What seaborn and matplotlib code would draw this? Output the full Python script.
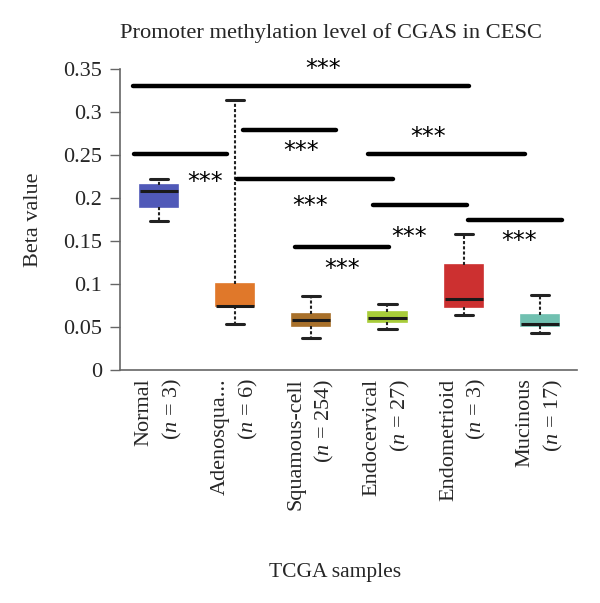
import matplotlib
matplotlib.use("Agg")
import matplotlib.pyplot as plt
import seaborn as sns
import pandas as pd

sns.set_style("white")
plt.rcParams['font.family'] = ['Liberation Serif', 'DejaVu Serif']
plt.rcParams['mathtext.fontset'] = 'custom'
plt.rcParams['mathtext.it'] = 'Liberation Serif:italic'
plt.rcParams['mathtext.rm'] = 'Liberation Serif'

# Categories and five-number summaries (whisker low, Q1, median, Q3, whisker high)
groups = ["Normal", "Adenosqua...", "Squamous-cell", "Endocervical", "Endometrioid", "Mucinous"]
counts = [3, 6, 254, 27, 3, 17]
normal = [0.173, 0.190, 0.208, 0.2155, 0.222]
adeno = [0.054, 0.0742, 0.0745, 0.0997, 0.314]
squamous = [0.038, 0.0518, 0.058, 0.0649, 0.0865]
endocervical = [0.0483, 0.056, 0.0606, 0.0672, 0.0773]
endometrioid = [0.0645, 0.0734, 0.083, 0.1217, 0.158]
mucinous = [0.0437, 0.0514, 0.0533, 0.0645, 0.0873]
colors = ["#5059b8", "#e0782a", "#a8702a", "#a8cc3a", "#cc3030", "#70c0b0"]

# Significance brackets: (x start, x end, y, star x, star y)
sig_x0 = [-0.34, -0.32, 1.10, 1.02, 1.79, 2.75, 2.81, 4.06]
sig_x1 = [4.07, 0.90, 2.33, 3.07, 3.02, 4.80, 4.04, 5.29]
sig_y = [0.3295, 0.251, 0.279, 0.2217, 0.1429, 0.251, 0.192, 0.1746]
star_x = [2.16, 0.605, 1.87, 1.99, 2.40, 3.53, 3.29, 4.73]
star_y = [0.355, 0.223, 0.2596, 0.196, 0.1228, 0.2754, 0.1596, 0.1545]

series = [normal, adeno, squamous, endocervical, endometrioid, mucinous]
rows = []
for g, vals in zip(groups, series):
    for v in vals:
        rows.append({"group": g, "value": v})
df = pd.DataFrame(rows)

fig = plt.figure(figsize=(6.0, 6.03), dpi=100)
ax = fig.add_axes([0.200, 0.386, 0.762, 0.500])

sns.boxplot(data=df, x="group", y="value", hue="group", palette=colors,
            order=groups, hue_order=groups, legend=False,
            whis=(0, 100), width=0.5, linewidth=1.2, saturation=1,
            showfliers=False, ax=ax, capwidths=0.24,
            medianprops=dict(color="#1a1a1a", linewidth=2.2),
            whiskerprops=dict(color="#222222", linestyle=(0, (1.5, 1)), linewidth=1.5),
            capprops=dict(color="#222222", linewidth=2.2))

# box edges same as fill colour
for patch, c in zip([p for p in ax.patches], colors):
    patch.set_edgecolor(c)

for x0, x1, y in zip(sig_x0, sig_x1, sig_y):
    ax.plot([x0, x1], [y, y], color="black", linewidth=3.2, solid_capstyle="round", clip_on=False)
for sx, sy in zip(star_x, star_y):
    ax.text(sx, sy - 0.005, "***", ha="center", va="center", fontsize=17, fontfamily="DejaVu Sans",
            color="black", clip_on=False)

ax.set_xlim(-0.51, 5.49)
ax.set_ylim(0, 0.35)
ax.set_yticks([0, 0.05, 0.1, 0.15, 0.2, 0.25, 0.3, 0.35])
ax.set_yticklabels(["0", "0.05", "0.1", "0.15", "0.2", "0.25", "0.3", "0.35"], fontsize=16)
ax.set_xticks(range(len(groups)))
ax.set_xticklabels([f"{g}\n($n$ = {n})" for g, n in zip(groups, counts)],
                   rotation=90, fontsize=16, ha="center", va="top", multialignment="right",
                   linespacing=1.45)
ax.tick_params(axis="y", direction="out", length=7, width=1, color="#666666", left=True, pad=6)
ax.tick_params(axis="x", length=0, pad=6)
for s in ["top", "right"]:
    ax.spines[s].set_visible(False)
for s in ["left", "bottom"]:
    ax.spines[s].set_color("#666666")
    ax.spines[s].set_linewidth(1.2)

ax.set_ylabel("Beta value", fontsize=16, labelpad=14)
ax.set_xlabel("")
fig.text(0.558, 0.05, "TCGA samples", ha="center", va="center", fontsize=15.5)
fig.text(0.552, 0.945, "Promoter methylation level of CGAS in CESC", ha="center", va="center", fontsize=16.2)

fig.savefig("out.png", dpi=100)
